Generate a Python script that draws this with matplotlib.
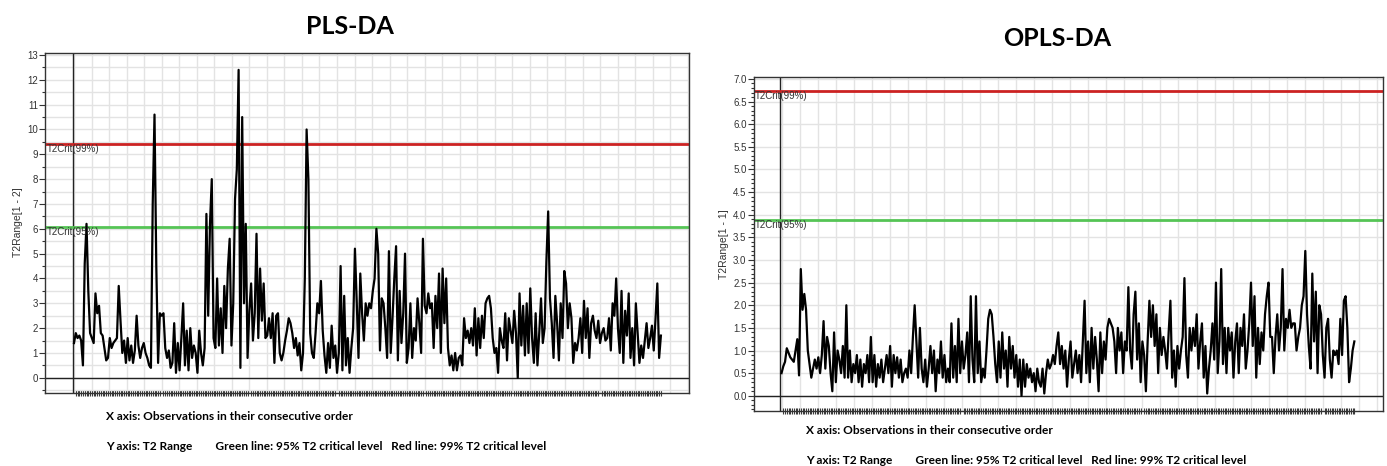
import numpy as np
import matplotlib
matplotlib.use("Agg")
import matplotlib.pyplot as plt
from matplotlib.ticker import MultipleLocator, FormatStrFormatter

pls_t2 = [
    1.4, 1.8, 1.6, 1.7, 1.5, 0.5, 4.6, 6.2, 3.5, 1.8,
    1.6, 1.4, 3.4, 2.6, 2.9, 1.8, 1.7, 1.2, 0.7, 0.8,
    1.6, 1.2, 1.4, 1.5, 1.6, 3.7, 2.3, 1.0, 1.5, 0.6,
    1.6, 0.7, 1.3, 0.6, 1.1, 2.5, 1.3, 0.8, 1.2, 1.4,
    1.0, 0.8, 0.5, 0.4, 7.0, 10.6, 4.5, 0.6, 2.6, 2.5,
    2.6, 1.2, 0.8, 1.1, 0.4, 0.6, 2.2, 0.2, 1.4, 0.3,
    1.6, 3.0, 0.5, 1.9, 0.3, 2.0, 0.8, 1.3, 1.0, 0.2,
    1.9, 1.0, 0.5, 1.2, 6.6, 2.5, 6.2, 8.0, 1.6, 1.2,
    4.0, 1.3, 2.8, 1.0, 3.7, 2.0, 4.4, 5.6, 1.3, 3.0,
    7.2, 8.4, 12.4, 0.4, 10.5, 3.0, 6.2, 0.8, 2.7, 3.8,
    1.5, 2.6, 5.8, 1.6, 4.4, 2.3, 3.8, 1.6, 1.7, 2.4,
    1.6, 2.6, 0.6, 2.5, 2.6, 1.0, 0.7, 1.0, 1.5, 1.9,
    2.4, 2.2, 1.8, 1.2, 1.6, 0.9, 1.4, 0.3, 1.0, 4.0,
    10.0, 8.0, 1.8, 1.0, 0.8, 1.8, 3.0, 2.6, 3.9, 1.9,
    0.9, 0.2, 1.4, 0.4, 2.1, 0.8, 1.3, 0.2, 1.0, 4.5,
    0.3, 3.3, 0.5, 1.6, 0.2, 1.2, 2.0, 5.2, 3.1, 0.8,
    4.2, 2.6, 1.5, 3.0, 2.5, 3.0, 2.8, 3.5, 4.0, 6.0,
    5.0, 1.1, 3.2, 3.0, 2.0, 0.8, 5.1, 1.0, 2.4, 4.0,
    5.3, 0.7, 3.5, 1.4, 2.6, 5.0, 0.6, 1.2, 3.0, 0.8,
    2.0, 1.5, 3.2, 2.2, 1.0, 5.6, 2.9, 2.6, 3.4, 2.8,
    3.0, 1.2, 3.3, 2.0, 4.2, 1.0, 4.4, 2.2, 4.0, 1.2,
    0.5, 0.9, 0.3, 1.0, 0.3, 0.8, 0.9, 0.5, 2.4, 1.6,
    1.9, 1.4, 2.0, 1.3, 2.8, 0.9, 2.4, 1.2, 2.5, 1.6,
    3.0, 3.2, 3.3, 2.8, 1.6, 1.0, 1.2, 0.2, 2.0, 1.5,
    1.2, 2.6, 0.7, 2.4, 1.9, 1.4, 2.7, 1.8, 0.0, 3.4,
    1.3, 2.9, 0.9, 3.0, 1.0, 3.6, 1.6, 0.6, 2.6, 0.5,
    1.8, 3.2, 1.4, 2.0, 4.7, 6.7, 3.2, 2.2, 0.8, 3.3,
    2.2, 0.7, 3.0, 1.6, 4.3, 3.8, 2.0, 3.0, 2.4, 0.6,
    1.4, 1.1, 1.6, 2.4, 1.0, 3.1, 1.6, 2.8, 0.8, 2.2,
    2.5, 1.9, 1.6, 2.3, 1.4, 1.8, 2.0, 1.5, 1.6, 2.4,
    1.1, 3.0, 2.5, 4.0, 2.0, 1.0, 3.5, 0.6, 2.7, 1.7,
    3.4, 0.8, 2.0, 0.5, 3.0, 1.8, 0.6, 1.3, 0.8, 1.5,
    2.2, 1.2, 1.6, 2.1, 1.1, 2.4, 3.8, 0.8, 1.7,
]

# T2 range per observation, OPLS-DA model
opls_t2 = [
    0.5, 0.65, 0.75, 1.05, 0.95, 0.85, 0.8, 0.75, 1.0, 1.25,
    0.45, 2.8, 1.9, 2.25, 1.9, 1.0, 0.7, 0.4, 0.6, 0.8,
    0.6, 0.85, 0.5, 0.9, 1.65, 0.6, 1.3, 1.1, 0.5, 0.1,
    1.4, 0.3, 1.0, 0.8, 0.5, 1.1, 0.4, 2.0, 0.4, 1.0,
    0.3, 0.7, 0.5, 0.9, 0.3, 0.8, 0.2, 0.7, 0.5, 0.9,
    0.3, 1.3, 0.3, 0.9, 0.2, 0.7, 0.4, 0.8, 0.3, 0.6,
    0.9, 0.5, 1.1, 0.2, 0.9, 0.5, 0.85, 0.4, 0.8, 0.3,
    0.5, 0.6, 0.4, 1.0, 0.5, 1.3, 2.0, 1.2, 0.4, 1.5,
    0.6, 0.3, 0.8, 0.2, 0.6, 1.1, 0.5, 1.0, 0.1, 0.8,
    0.5, 1.2, 0.4, 0.9, 0.3, 0.6, 0.3, 1.6, 0.4, 1.1,
    0.3, 1.7, 0.5, 1.2, 0.6, 0.9, 1.4, 0.3, 2.2, 0.8,
    0.3, 2.2, 0.5, 1.2, 0.3, 0.6, 0.4, 1.0, 1.7, 1.9,
    1.8, 1.3, 0.7, 0.3, 1.2, 0.4, 1.4, 0.6, 1.0, 0.2,
    1.3, 0.6, 1.1, 0.4, 0.9, 0.2, 0.8, 0.0, 0.8, 0.2,
    0.7, 0.4, 0.6, 0.3, 0.5, 0.1, 0.6, 0.3, 0.2, 0.6,
    0.05, 0.5, 0.8, 0.6, 0.7, 0.9, 0.7, 1.1, 1.4, 0.7,
    1.1, 0.6, 1.0, 0.2, 0.8, 1.2, 0.4, 0.7, 1.0, 0.5,
    0.9, 0.3, 1.2, 2.1, 0.5, 1.2, 0.3, 1.5, 0.6, 1.3,
    0.8, 0.1, 1.4, 0.5, 1.2, 0.8, 1.5, 1.7, 1.6, 1.5,
    1.2, 0.5, 1.5, 1.0, 1.4, 0.5, 1.2, 1.0, 2.4, 1.0,
    0.6, 1.8, 2.3, 0.8, 1.6, 0.3, 1.2, 0.9, 0.1, 1.2,
    2.1, 1.3, 2.0, 1.1, 1.8, 0.5, 1.5, 0.9, 1.3, 1.0,
    0.6, 1.4, 2.1, 0.4, 1.0, 0.2, 1.1, 0.6, 1.0, 1.3,
    2.6, 0.9, 0.4, 1.5, 1.0, 1.5, 1.1, 1.8, 0.6, 1.2,
    1.6, 0.4, 1.1, 0.05, 0.6, 1.0, 1.6, 0.8, 2.5, 0.5,
    1.2, 2.8, 0.7, 1.5, 0.5, 1.5, 1.0, 1.4, 0.4, 1.2,
    1.6, 0.5, 1.5, 1.1, 1.8, 0.6, 1.0, 1.6, 2.5, 1.1,
    2.2, 0.4, 1.5, 0.7, 1.4, 1.0, 1.8, 2.2, 2.5, 1.3,
    1.3, 0.5, 1.3, 1.8, 1.0, 1.5, 2.8, 1.0, 1.7, 1.5,
    1.9, 1.5, 1.6, 1.6, 1.0, 1.3, 1.5, 2.0, 2.2, 3.2,
    1.8, 1.1, 0.6, 2.7, 1.2, 2.3, 0.5, 2.0, 1.8, 0.9,
    0.4, 1.5, 1.7, 0.8, 0.4, 1.0, 0.9, 1.0, 0.7, 1.7,
    0.9, 2.1, 2.2, 1.5, 0.3, 0.6, 1.0, 1.2,
]

pls_crit = {"95": 6.06, "99": 9.42}
opls_crit = {"95": 3.88, "99": 6.73}

titles = ["PLS-DA", "OPLS-DA"]
ylabels = ["T2Range[1 - 2]", "T2Range[1 - 1]"]
x_note = "X axis: Observations in their consecutive order"
y_note = "Y axis: T2 Range        Green line: 95% T2 critical level   Red line: 99% T2 critical level"

W, H = 1387, 466
fig = plt.figure(figsize=(W / 100, H / 100), dpi=100)
plt.rcParams['font.family'] = ['Liberation Sans', 'DejaVu Sans']


def draw_panel(rect, vals, crit, ylim, xpad, major, minor, fmt, ylab, grid_step):
    ax = fig.add_axes(rect)
    n = len(vals)
    x = np.arange(n)
    ax.set_xlim(-xpad[0], n - 1 + xpad[1])
    ax.set_ylim(*ylim)

    # grid on major x ticks, one small tick per observation on minor
    ax.set_xticks(np.arange(0, n + xpad[1], grid_step))
    ax.set_xticks(x, minor=True)
    ax.tick_params(axis='x', which='major', length=0, labelbottom=False)
    ax.tick_params(axis='x', which='minor', length=5, width=0.8,
                   direction='inout', color='#3a3a3a')
    ax.yaxis.set_major_locator(MultipleLocator(major))
    ax.yaxis.set_minor_locator(MultipleLocator(minor))
    ax.yaxis.set_major_formatter(FormatStrFormatter(fmt))
    ax.tick_params(axis='y', which='major', length=4, width=0.8, labelsize=7,
                   colors='#333333', pad=1)
    ax.tick_params(axis='y', which='minor', length=2, width=0.8, color='#333333')
    ax.grid(True, which='major', axis='x', color='#e3e3e3', lw=1)
    ax.grid(True, which='major', axis='y', color='#e3e3e3', lw=1)
    if major == 1:
        ax.grid(True, which='minor', axis='y', color='#e3e3e3', lw=1)
    ax.set_axisbelow(True)
    for s in ax.spines.values():
        s.set_color('#333333')
        s.set_linewidth(1)

    ax.axvline(-0.8, color='#222222', lw=1)
    ax.axhline(0, color='#222222', lw=1)
    ax.axhline(crit["99"], color='#cc2222', lw=2)
    ax.axhline(crit["95"], color='#55c455', lw=2)
    ax.plot(x, vals, color='black', lw=1.6)

    ax.text(-xpad[0] + 1, crit["99"], "T2Crit(99%)", fontsize=7, color='#333333',
            va='top', ha='left')
    ax.text(-xpad[0] + 1, crit["95"], "T2Crit(95%)", fontsize=7, color='#333333',
            va='top', ha='left')
    ax.set_ylabel(ylab, fontsize=7.5, color='#333333', labelpad=3)
    return ax


draw_panel([45 / W, 1 - 392.7 / H, 644 / W, 340.2 / H], pls_t2, pls_crit,
           (-0.60, 13.1), (16.2, 15.7), 1, 0.5, '%d', ylabels[0], 9.8)
draw_panel([753.5 / W, 1 - 410.7 / H, 629.4 / W, 334 / H], opls_t2, opls_crit,
           (-0.33, 7.05), (16.0, 16.3), 0.5, 0.1, '%.1f', ylabels[1], 10.3)

tfont = dict(family=['Lato', 'DejaVu Sans'], weight='bold')
fig.text(350 / W, 1 - 27 / H, titles[0], fontsize=18, ha='center', va='center', **tfont)
fig.text(1057 / W, 1 - 38 / H, titles[1], fontsize=18, ha='center', va='center', **tfont)

fig.text(106 / W, 1 - 417 / H, x_note, fontsize=8.6, ha='left', va='center', **tfont)
fig.text(106 / W, 1 - 446 / H, y_note, fontsize=8.6, ha='left', va='center', **tfont)
fig.text(806 / W, 1 - 431 / H, x_note, fontsize=8.6, ha='left', va='center', **tfont)
fig.text(806 / W, 1 - 460 / H, y_note, fontsize=8.6, ha='left', va='center', **tfont)

fig.savefig("out.png", dpi=100)
